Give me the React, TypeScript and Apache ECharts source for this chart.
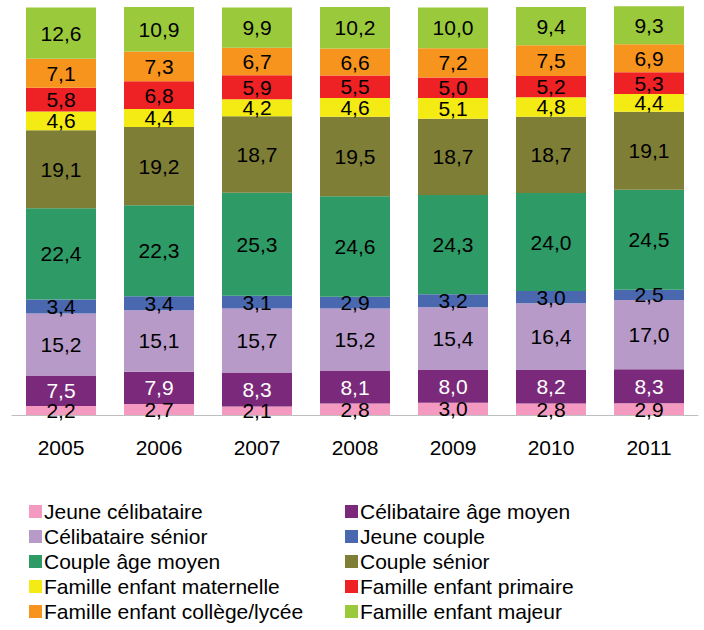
import React, { useEffect, useRef } from "react";
import * as echarts from "echarts";

const years = ["2005", "2006", "2007", "2008", "2009", "2010", "2011"];

const seriesNames = [
  "Jeune célibataire",
  "Célibataire âge moyen",
  "Célibataire sénior",
  "Jeune couple",
  "Couple âge moyen",
  "Couple sénior",
  "Famille enfant maternelle",
  "Famille enfant primaire",
  "Famille enfant collège/lycée",
  "Famille enfant majeur",
];

const jeuneCelibataire = [2.2, 2.7, 2.1, 2.8, 3.0, 2.8, 2.9];
const celibataireAgeMoyen = [7.5, 7.9, 8.3, 8.1, 8.0, 8.2, 8.3];
const celibataireSenior = [15.2, 15.1, 15.7, 15.2, 15.4, 16.4, 17.0];
const jeuneCouple = [3.4, 3.4, 3.1, 2.9, 3.2, 3.0, 2.5];
const coupleAgeMoyen = [22.4, 22.3, 25.3, 24.6, 24.3, 24.0, 24.5];
const coupleSenior = [19.1, 19.2, 18.7, 19.5, 18.7, 18.7, 19.1];
const familleMaternelle = [4.6, 4.4, 4.2, 4.6, 5.1, 4.8, 4.4];
const famillePrimaire = [5.8, 6.8, 5.9, 5.5, 5.0, 5.2, 5.3];
const familleCollege = [7.1, 7.3, 6.7, 6.6, 7.2, 7.5, 6.9];
const familleMajeur = [12.6, 10.9, 9.9, 10.2, 10.0, 9.4, 9.3];

const seriesValues = [
  jeuneCelibataire,
  celibataireAgeMoyen,
  celibataireSenior,
  jeuneCouple,
  coupleAgeMoyen,
  coupleSenior,
  familleMaternelle,
  famillePrimaire,
  familleCollege,
  familleMajeur,
];

const colors = [
  "#F49AC1",
  "#7B2A7B",
  "#B89AC8",
  "#4A68B0",
  "#2E9A66",
  "#7E7E36",
  "#F5EB14",
  "#EE2124",
  "#F7941D",
  "#9BC93C",
];

const labelColors = [
  "#000000",
  "#FFFFFF",
  "#000000",
  "#000000",
  "#000000",
  "#000000",
  "#000000",
  "#000000",
  "#000000",
  "#000000",
];

const FONT = "Liberation Sans";

export default function App() {
  const ref = useRef<HTMLDivElement>(null);

  useEffect(() => {
    document.body.style.margin = "0";
    if (!ref.current) return;
    const chart = echarts.init(ref.current, null, { renderer: "svg" });

    const legendCommon = {
      orient: "vertical",
      icon: "rect",
      itemWidth: 13,
      itemHeight: 13,
      itemGap: 4,
      top: 496,
      selectedMode: false,
      textStyle: {
        fontFamily: FONT,
        fontSize: 21,
        lineHeight: 21,
        color: "#000000",
        padding: [0, 0, 0, -3],
      },
    };

    chart.setOption({
      animation: false,
      color: colors,
      textStyle: { fontFamily: FONT },
      grid: { left: 12, right: 6, top: 7, height: 408, containLabel: false },
      legend: [
        {
          ...legendCommon,
          left: 24,
          data: seriesNames.filter((_, i) => i % 2 === 0),
        },
        {
          ...legendCommon,
          left: 340,
          data: seriesNames.filter((_, i) => i % 2 === 1),
        },
      ],
      xAxis: {
        type: "category",
        data: years,
        axisLine: { lineStyle: { color: "#BFBFBF", width: 1 } },
        axisTick: { length: 7, lineStyle: { color: "#BFBFBF" } },
        axisLabel: {
          fontFamily: FONT,
          fontSize: 21,
          color: "#000000",
          margin: 22,
        },
      },
      yAxis: {
        type: "value",
        min: 0,
        max: 100,
        show: false,
        splitLine: { show: false },
      },
      series: seriesNames.map((name, i) => ({
        name,
        type: "bar",
        stack: "total",
        barWidth: 70,
        clip: false,
        data: seriesValues[i],
        itemStyle: { color: colors[i] },
        label: {
          show: true,
          position: "inside",
          fontFamily: FONT,
          fontSize: 21,
          color: labelColors[i],
          formatter: (p: any) => Number(p.value).toFixed(1).replace(".", ","),
        },
      })),
    });

    return () => chart.dispose();
  }, []);

  return <div ref={ref} style={{ width: 704, height: 630 }} />;
}
